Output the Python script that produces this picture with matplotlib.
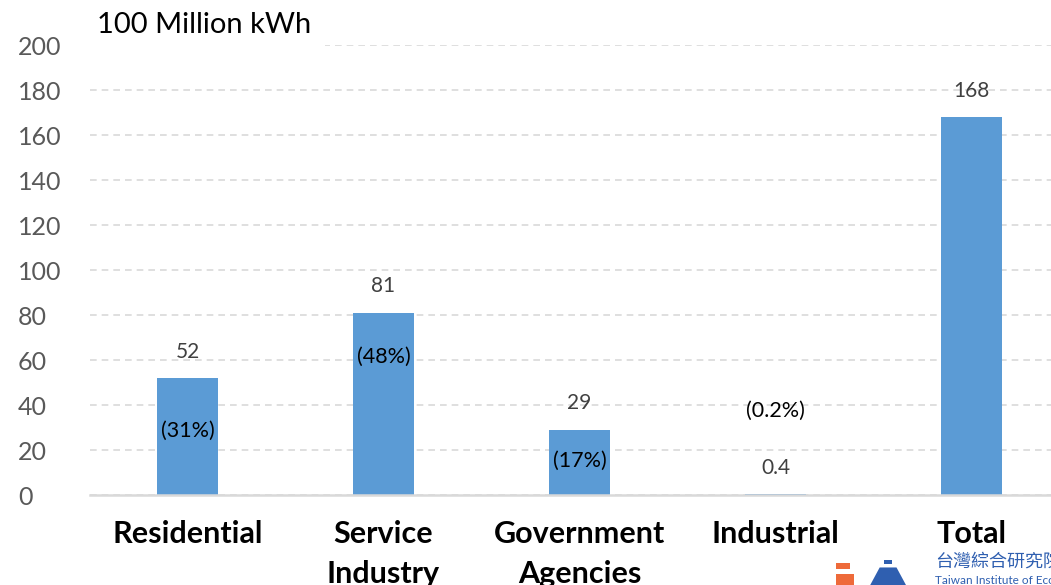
import matplotlib.pyplot as plt
from matplotlib.patches import Rectangle, Polygon

plt.rcParams['font.family'] = ['Lato', 'DejaVu Sans']

categories = ['Residential', 'Service\nIndustry', 'Government\nAgencies', 'Industrial', 'Total']
usage = [52, 81, 29, 0.4, 168]          # 100 million kWh
value_text = ['52', '81', '29', '0.4', '168']
share_text = ['(31%)', '(48%)', '(17%)', '(0.2%)']
share_y = [28.4, 61.3, 15.1, 37.3]       # where the share labels sit
yticks = list(range(0, 201, 20))

bar_color = '#5B9BD5'
grid_color = '#D9D9D9'

fig = plt.figure(figsize=(10.51, 5.85), dpi=100)
ax = fig.add_axes([0.0852, 0.1538, 0.9324, 0.7692])

x = range(len(categories))
ax.bar(x, usage, width=0.31, color=bar_color, zorder=2)

ax.set_xlim(-0.5, 4.5)
ax.set_ylim(0, 200)
ax.set_yticks(yticks)
ax.set_xticks(list(x))
ax.set_xticklabels(categories, fontsize=22, fontweight='bold', linespacing=1.5)
ax.tick_params(axis='y', length=0, labelsize=18, labelcolor='#595959', pad=51.5)
ax.tick_params(axis='x', length=0, pad=18)
for lbl in ax.get_yticklabels():
    lbl.set_horizontalalignment('left')

ax.yaxis.grid(True, color=grid_color, linestyle=(0, (4, 3)), linewidth=1.2, zorder=0)
for s in ['top', 'right', 'left']:
    ax.spines[s].set_visible(False)
ax.spines['bottom'].set_color(grid_color)
ax.spines['bottom'].set_linewidth(1.8)
ax.spines['bottom'].set_zorder(3)

# value on top of each bar
for i, (v, t) in enumerate(zip(usage, value_text)):
    ax.annotate(t, (i, v), xytext=(0, 19), textcoords='offset points',
                ha='center', va='center', fontsize=15, color='#404040')

# share of the total
for i, (t, y) in enumerate(zip(share_text, share_y)):
    ax.text(i, y, t, ha='center', va='center', fontsize=15.5, color='black', zorder=4)

# unit label, masking the top gridline
fig.text(0.092, 0.958, '100 Million kWh', fontsize=21, va='center', ha='left',
         bbox=dict(facecolor='white', edgecolor='none', pad=10))

# institute logo, cut off at the corner
logo_orange = '#EE6A3A'
logo_blue = '#2F5FB0'
fig.patches.append(Rectangle((0.795, 0.0), 0.018, 0.018, transform=fig.transFigure,
                             facecolor=logo_orange, edgecolor='none'))
fig.patches.append(Rectangle((0.795, 0.027), 0.014, 0.010, transform=fig.transFigure,
                             facecolor=logo_orange, edgecolor='none'))
fig.patches.append(Polygon([(0.828, 0.0), (0.862, 0.0), (0.853, 0.030), (0.837, 0.030)],
                           closed=True, transform=fig.transFigure,
                           facecolor=logo_blue, edgecolor='none'))
fig.patches.append(Rectangle((0.841, 0.036), 0.008, 0.006, transform=fig.transFigure,
                             facecolor=logo_blue, edgecolor='none'))
fig.text(0.890, 0.040, '\u53f0\u7063\u7d9c\u5408\u7814\u7a76\u9662', fontsize=13, color=logo_blue,
         va='center', ha='left', family=['Noto Sans CJK TC', 'DejaVu Sans'])
fig.text(0.890, 0.008, 'Taiwan Institute of Economic Research', fontsize=8.5,
         color=logo_blue, va='center', ha='left')

fig.savefig('out.png', dpi=100)
